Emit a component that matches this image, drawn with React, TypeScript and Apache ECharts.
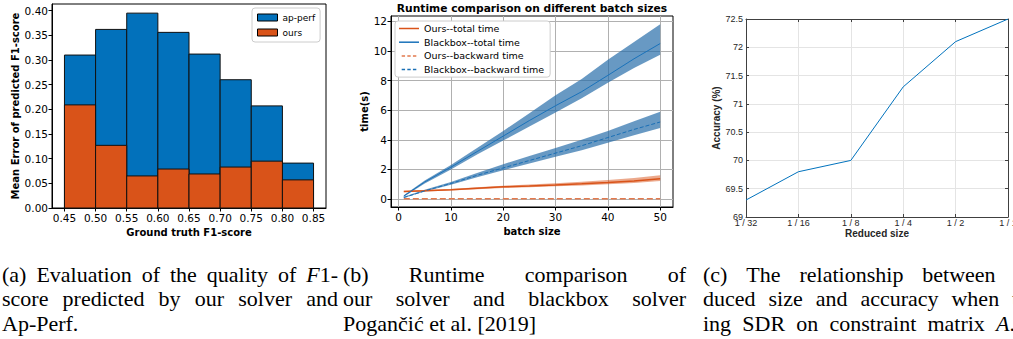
import React, { useEffect, useRef } from "react";
import * as echarts from "echarts";

// ---------- (a) histogram ----------
const binEdges = [0.45, 0.5, 0.55, 0.6, 0.65, 0.7, 0.75, 0.8, 0.85];
const apPerfError = [0.31, 0.362, 0.395, 0.356, 0.312, 0.26, 0.207, 0.091];
const oursError = [0.209, 0.127, 0.065, 0.079, 0.069, 0.083, 0.095, 0.057];
const f1Ticks = [0.45, 0.5, 0.55, 0.6, 0.65, 0.7, 0.75, 0.8, 0.85];
const errorTicks = [0, 0.05, 0.1, 0.15, 0.2, 0.25, 0.3, 0.35, 0.4];

// ---------- (b) runtime ----------
const batchSizes = [1, 5, 10, 15, 20, 25, 30, 35, 40, 45, 50];
const bbTotal = [0.2, 1.15, 2.15, 3.2, 4.25, 5.3, 6.3, 7.25, 8.35, 9.47, 10.5];
const bbTotalHi = [0.25, 1.25, 2.3, 3.45, 4.6, 5.8, 7.0, 8.1, 9.4, 10.6, 11.8];
const bbTotalLo = [0.15, 1.05, 2.0, 3.0, 3.95, 4.9, 5.85, 6.8, 7.85, 8.85, 9.75];
const bbBack = [0.1, 0.55, 1.05, 1.6, 2.1, 2.6, 3.1, 3.6, 4.15, 4.7, 5.2];
const bbBackHi = [0.15, 0.62, 1.15, 1.75, 2.35, 2.9, 3.45, 4.0, 4.6, 5.25, 5.9];
const bbBackLo = [0.07, 0.5, 0.97, 1.47, 1.95, 2.4, 2.85, 3.3, 3.8, 4.3, 4.8];
const oursTotal = [0.5, 0.55, 0.62, 0.72, 0.82, 0.88, 0.95, 1.03, 1.12, 1.22, 1.37];
const oursTotalHi = [0.55, 0.6, 0.68, 0.8, 0.9, 0.98, 1.07, 1.17, 1.28, 1.42, 1.6];
const oursTotalLo = [0.45, 0.5, 0.57, 0.66, 0.75, 0.8, 0.86, 0.92, 1.0, 1.08, 1.22];
const oursBack = [0.02, 0.02, 0.02, 0.02, 0.02, 0.02, 0.02, 0.02, 0.02, 0.02, 0.02];
const batchTicks = [0, 10, 20, 30, 40, 50];
const timeTicks = [0, 2, 4, 6, 8, 10, 12];

// ---------- (c) reduced size ----------
const reducedSizes = ["1 / 32", "1 / 16", "1 / 8", "1 / 4", "1 / 2", "1 / 1"];
const accuracy = [69.3, 69.8, 70.0, 71.3, 72.1, 72.5];

// ---------- captions ----------
const captionA = ["(a) Evaluation of the quality of *F*1-", "score predicted by our solver and", "Ap-Perf."];
const captionB = ["(b) Runtime comparison of", "our solver and blackbox solver", "Pogančić et al. [2019]"];
const captionC = ["(c) The relationship between re-", "duced size and accuracy when us-", "ing SDR on constraint matrix *A*."];

const SANS = "DejaVu Sans";
const HELV = "Liberation Sans";
const SERIF = "Liberation Serif";
const CAP_SIZE = 22;

const BLUE = "#0271bb";
const ORANGE = "#d95319";

let measureCtx: CanvasRenderingContext2D | null = null;
function textWidth(t: string, italic: boolean) {
  if (!measureCtx) measureCtx = document.createElement("canvas").getContext("2d");
  measureCtx!.font = `${italic ? "italic " : ""}${CAP_SIZE}px "${SERIF}"`;
  return measureCtx!.measureText(t).width;
}

function parseWord(w: string) {
  const parts = w.split("*");
  return parts.map((t, i) => ({ t, i: i % 2 === 1 })).filter((s) => s.t.length > 0);
}

// widths[i] = justified width of line i, or 0 for a left-aligned line
function captionElements(lines: string[], x0: number, widths: number[], y0: number, lineH: number) {
  const els: any[] = [];
  lines.forEach((line, li) => {
    const words = line.split(" ").map(parseWord);
    const ws = words.map((segs) => segs.reduce((a, s) => a + textWidth(s.t, s.i), 0));
    const natural = ws.reduce((a, b) => a + b, 0);
    const target = widths[li];
    const gap = target > 0 && words.length > 1 ? (target - natural) / (words.length - 1) : textWidth(" ", false);
    let x = x0;
    words.forEach((segs, wi) => {
      const hasItalic = segs.some((s) => s.i);
      const style: any = {
        x,
        y: y0 + li * lineH,
        verticalAlign: "middle",
        align: "left",
        fill: "#000",
        fontFamily: SERIF,
        fontSize: CAP_SIZE,
      };
      if (hasItalic) {
        style.text = segs.map((s) => `{${s.i ? "i" : "r"}|${s.t}}`).join("");
        style.rich = {
          r: { fontFamily: SERIF, fontSize: CAP_SIZE, fill: "#000" },
          i: { fontFamily: SERIF, fontSize: CAP_SIZE, fontStyle: "italic", fill: "#000" },
        };
      } else {
        style.text = segs.map((s) => s.t).join("");
      }
      els.push({ type: "text", silent: true, style });
      x += ws[wi] + gap;
    });
  });
  return els;
}

function histSeries(name: string, values: number[], color: string, z: number) {
  return {
    type: "custom",
    name,
    xAxisIndex: 0,
    yAxisIndex: 0,
    z,
    data: values.map((v, i) => [binEdges[i], binEdges[i + 1], v]),
    encode: { x: [0, 1], y: 2 },
    itemStyle: { color, borderColor: "#000", borderWidth: 1 },
    renderItem: (_params: any, api: any) => {
      const p0 = api.coord([api.value(0), 0]);
      const p1 = api.coord([api.value(1), api.value(2)]);
      return {
        type: "rect",
        shape: { x: p0[0], y: p1[1], width: p1[0] - p0[0], height: p0[1] - p1[1] },
        style: { fill: color, stroke: "#111", lineWidth: 1 },
      };
    },
  };
}

function bandSeries(lo: number[], hi: number[], color: string) {
  return {
    type: "custom",
    xAxisIndex: 1,
    yAxisIndex: 1,
    silent: true,
    z: 1,
    data: batchSizes.map((x, i) => [x, lo[i], hi[i]]),
    encode: { x: 0, y: [1, 2] },
    renderItem: (params: any, api: any) => {
      if (params.dataIndex !== 0) return { type: "group", children: [] };
      const upper = batchSizes.map((x, i) => api.coord([x, hi[i]]));
      const lower = batchSizes.map((x, i) => api.coord([x, lo[i]])).reverse();
      return { type: "polygon", shape: { points: upper.concat(lower) }, style: { fill: color } };
    },
  };
}

function lineSeries(name: string, ys: number[], color: string, type: string, width: number) {
  return {
    type: "line",
    name,
    xAxisIndex: 1,
    yAxisIndex: 1,
    data: batchSizes.map((x, i) => [x, ys[i]]),
    symbol: "none",
    itemStyle: { color },
    lineStyle: { color, width, type },
    z: 3,
  };
}

const DASH_ICON = "path://M0,0h4.5v2h-4.5zM7.5,0h4.5v2h-4.5zM15,0h4.5v2h-4.5z";

export default function App() {
  const ref = useRef<HTMLDivElement>(null);
  useEffect(() => {
    const chart = echarts.init(ref.current!, null, { renderer: "svg" });
    const tickLabelA = { fontFamily: SANS, fontSize: 10.5, color: "#000" };
    const nameA = { fontFamily: SANS, fontSize: 10, fontWeight: "bold", color: "#000" };
    const option: any = {
      animation: false,
      backgroundColor: "#fff",
      grid: [
        { left: 52, top: 4, width: 274, height: 204, show: true, borderColor: "#000", borderWidth: 1, outerBoundsMode: "none" },
        { left: 391, top: 16, width: 282, height: 191, show: true, borderColor: "#000", borderWidth: 1, outerBoundsMode: "none" },
        { left: 746, top: 19, width: 262, height: 198, show: false, outerBoundsMode: "none" },
      ],
      xAxis: [
        {
          type: "value",
          gridIndex: 0,
          min: 0.43,
          max: 0.87,
          axisLine: { show: true, onZero: false, lineStyle: { color: "#000", width: 1 } },
          axisTick: { show: true, customValues: f1Ticks, length: 3.5, lineStyle: { color: "#000" } },
          axisLabel: { customValues: f1Ticks, formatter: (v: number) => v.toFixed(2), margin: 4, ...tickLabelA },
          splitLine: { show: false },
          name: "Ground truth F1-score",
          nameLocation: "middle",
          nameGap: 18,
          nameTextStyle: nameA,
        },
        {
          type: "value",
          gridIndex: 1,
          min: -1.45,
          max: 52.45,
          axisLine: { show: true, onZero: false, lineStyle: { color: "#000", width: 1 } },
          axisTick: { show: true, customValues: batchTicks, length: 3.5, lineStyle: { color: "#000" } },
          axisLabel: { customValues: batchTicks, margin: 4, ...tickLabelA },
          splitLine: { show: true, lineStyle: { color: "#b0b0b0", width: 1 } },
          name: "batch size",
          nameLocation: "middle",
          nameGap: 18,
          nameTextStyle: nameA,
        },
        {
          type: "category",
          gridIndex: 2,
          data: reducedSizes,
          boundaryGap: false,
          axisLine: { show: true, onZero: false, lineStyle: { color: "#404040", width: 1 } },
          axisTick: { show: true, inside: true, length: 3, lineStyle: { color: "#404040" } },
          axisLabel: { fontFamily: HELV, fontSize: 9, color: "#262626", margin: 1 },
          splitLine: { show: true, lineStyle: { color: "#e4e4e4", width: 1 } },
          name: "Reduced size",
          nameLocation: "middle",
          nameGap: 11,
          nameMoveOverlap: false,
          nameTextStyle: { fontFamily: HELV, fontSize: 10, fontWeight: "bold", color: "#262626" },
        },
        {
          type: "category",
          gridIndex: 2,
          position: "top",
          data: reducedSizes,
          boundaryGap: false,
          axisLine: { show: true, onZero: false, lineStyle: { color: "#404040", width: 1 } },
          axisTick: { show: true, inside: true, length: 3, lineStyle: { color: "#404040" } },
          axisLabel: { show: false },
          splitLine: { show: false },
        },
      ],
      yAxis: [
        {
          type: "value",
          gridIndex: 0,
          min: 0,
          max: 0.4135,
          axisLine: { show: true, onZero: false, lineStyle: { color: "#000", width: 1 } },
          axisTick: { show: true, customValues: errorTicks, length: 3.5, lineStyle: { color: "#000" } },
          axisLabel: { customValues: errorTicks, formatter: (v: number) => v.toFixed(2), margin: 4, ...tickLabelA },
          splitLine: { show: false },
          name: "Mean Error of predicted F1-score",
          nameLocation: "middle",
          nameGap: 32,
          nameTextStyle: nameA,
        },
        {
          type: "value",
          gridIndex: 1,
          min: -0.54,
          max: 12.36,
          axisLine: { show: true, onZero: false, lineStyle: { color: "#000", width: 1 } },
          axisTick: { show: true, customValues: timeTicks, length: 3.5, lineStyle: { color: "#000" } },
          axisLabel: { customValues: timeTicks, margin: 4, ...tickLabelA },
          splitLine: { show: true, lineStyle: { color: "#b0b0b0", width: 1 } },
          name: "time(s)",
          nameLocation: "middle",
          nameGap: 22,
          nameTextStyle: nameA,
        },
        {
          type: "value",
          gridIndex: 2,
          min: 69,
          max: 72.5,
          interval: 0.5,
          axisLine: { show: true, onZero: false, lineStyle: { color: "#404040", width: 1 } },
          axisTick: { show: true, inside: true, length: 3, lineStyle: { color: "#404040" } },
          axisLabel: { fontFamily: HELV, fontSize: 9, color: "#262626", margin: 3 },
          splitLine: { show: true, lineStyle: { color: "#e4e4e4", width: 1 } },
          name: "Accuracy (%)",
          nameLocation: "middle",
          nameGap: 19,
          nameTextStyle: { fontFamily: HELV, fontSize: 10, fontWeight: "bold", color: "#262626" },
        },
        {
          type: "value",
          gridIndex: 2,
          position: "right",
          min: 69,
          max: 72.5,
          interval: 0.5,
          axisLine: { show: true, onZero: false, lineStyle: { color: "#404040", width: 1 } },
          axisTick: { show: true, inside: true, length: 3, lineStyle: { color: "#404040" } },
          axisLabel: { show: false },
          splitLine: { show: false },
        },
      ],
      legend: [
        {
          data: ["ap-perf", "ours"],
          left: 252,
          top: 8,
          orient: "vertical",
          icon: "rect",
          itemWidth: 20,
          itemHeight: 7,
          itemGap: 6,
          padding: [5, 5, 5, 5],
          backgroundColor: "#fff",
          borderColor: "#cccccc",
          borderWidth: 1,
          borderRadius: 3,
          selectedMode: false,
          itemStyle: { borderColor: "#000", borderWidth: 1 },
          textStyle: { fontFamily: SANS, fontSize: 9, color: "#000" },
        },
        {
          data: [
            { name: "Ours--total time", icon: "rect" },
            { name: "Blackbox--total time", icon: "rect" },
            { name: "Ours--backward time", icon: DASH_ICON },
            { name: "Blackbox--backward time", icon: DASH_ICON },
          ],
          left: 395,
          top: 21,
          orient: "vertical",
          itemWidth: 20,
          itemHeight: 1.5,
          itemGap: 2.7,
          padding: [2, 6, 2, 4],
          backgroundColor: "#fff",
          borderColor: "#cccccc",
          borderWidth: 1,
          borderRadius: 3,
          selectedMode: false,
          textStyle: { fontFamily: SANS, fontSize: 9.5, color: "#000", lineHeight: 11 },
        },
      ],
      graphic: {
        elements: [
          {
            type: "text",
            silent: true,
            style: {
              x: 532,
              y: 8,
              text: "Runtime comparison on different batch sizes",
              align: "center",
              verticalAlign: "middle",
              fontFamily: SANS,
              fontSize: 10.7,
              fontWeight: "bold",
              fill: "#000",
            },
          },
          ...captionElements(captionA, 2, [336, 336, 0], 274, 24.5),
          ...captionElements(captionB, 343, [343, 343, 0], 274, 24.5),
          ...captionElements(captionC, 703, [336, 336, 312], 274, 24.5),
        ],
      },
      series: [
        histSeries("ap-perf", apPerfError, BLUE, 2),
        histSeries("ours", oursError, ORANGE, 3),
        bandSeries(bbTotalLo, bbTotalHi, "rgba(40,110,170,0.7)"),
        bandSeries(bbBackLo, bbBackHi, "rgba(40,110,170,0.7)"),
        bandSeries(oursTotalLo, oursTotalHi, "rgba(217,83,25,0.5)"),
        lineSeries("Ours--total time", oursTotal, ORANGE, "solid", 1.5),
        lineSeries("Blackbox--total time", bbTotal, "#1a72ba", "solid", 1),
        lineSeries("Ours--backward time", oursBack, "#e27a4e", "dashed", 1.5),
        lineSeries("Blackbox--backward time", bbBack, "#1a6fb5", "dashed", 1),
        {
          type: "line",
          name: "accuracy",
          xAxisIndex: 2,
          yAxisIndex: 2,
          data: accuracy,
          symbol: "none",
          lineStyle: { color: "#0072bd", width: 1 },
          itemStyle: { color: "#0072bd" },
          z: 3,
        },
      ],
    };
    chart.setOption(option);
    return () => chart.dispose();
  }, []);
  return <div ref={ref} style={{ position: "absolute", left: 0, top: 0, width: 1013, height: 339 }} />;
}
